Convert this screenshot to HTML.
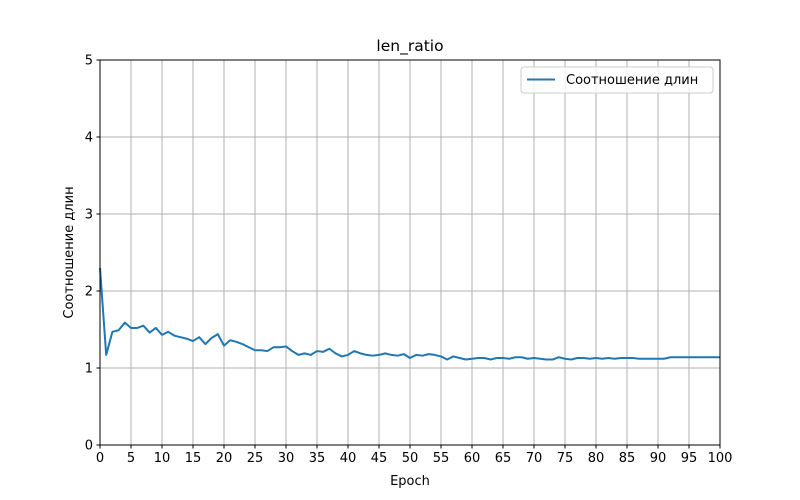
<!DOCTYPE html>
<html><head><meta charset="utf-8"><style>
body{margin:0;background:#fff;}
svg{display:block;font-family:"DejaVu Sans","Liberation Sans",sans-serif;}
</style></head><body>
<svg id="chart" width="800" height="500"></svg>
<script>
const epochs = Array.from({length:101},(_,i)=>i);
const ratioValues = [2.3,1.17,1.47,1.49,1.59,1.52,1.52,1.55,1.46,1.52,1.43,1.47,1.42,1.40,1.38,1.35,1.40,1.31,1.39,1.44,1.29,1.36,1.34,1.31,1.27,1.23,1.23,1.22,1.27,1.27,1.28,1.22,1.17,1.19,1.17,1.22,1.21,1.25,1.19,1.15,1.17,1.22,1.19,1.17,1.16,1.17,1.19,1.17,1.16,1.18,1.13,1.17,1.16,1.18,1.17,1.15,1.11,1.15,1.13,1.11,1.12,1.13,1.13,1.11,1.13,1.13,1.12,1.14,1.14,1.12,1.13,1.12,1.11,1.11,1.14,1.12,1.11,1.13,1.13,1.12,1.13,1.12,1.13,1.12,1.13,1.13,1.13,1.12,1.12,1.12,1.12,1.12,1.14,1.14,1.14,1.14,1.14,1.14,1.14,1.14,1.14];
const xTicks = [0,5,10,15,20,25,30,35,40,45,50,55,60,65,70,75,80,85,90,95,100];
const yTicks = [0,1,2,3,4,5];
const L=100,R=720,T=60,B=445;
const xs=v=>L+(v-0)/(100-0)*(R-L);
const ys=v=>B-(v-0)/(5-0)*(B-T);
const svg=document.getElementById('chart');
const NS='http://www.w3.org/2000/svg';
function mk(tag,attrs,parent){const e=document.createElementNS(NS,tag);for(const k in attrs)e.setAttribute(k,attrs[k]);(parent||svg).appendChild(e);return e;}
const grid=mk('g',{});


xTicks.forEach(t=>{
  const l=mk('line',{x1:xs(t),x2:xs(t),y1:T,y2:B,stroke:'#b0b0b0','stroke-width':1},grid);
  
  
  const tk=mk('line',{x1:xs(t),x2:xs(t),y1:B,y2:B+3.5,stroke:'#000','stroke-width':1});
  
  
  const tx=mk('text',{x:xs(t),y:B+17,'text-anchor':'middle','font-size':13});
  tx.textContent=t;
  
  
});
yTicks.forEach(t=>{
  const l=mk('line',{x1:L,x2:R,y1:ys(t),y2:ys(t),stroke:'#b0b0b0','stroke-width':1},grid);
  
  
  const tk=mk('line',{x1:L-3.5,x2:L,y1:ys(t),y2:ys(t),stroke:'#000','stroke-width':1});
  
  
  const tx=mk('text',{x:L-7,y:ys(t)+4.5,'text-anchor':'end','font-size':13});
  tx.textContent=t;
  
  
});
const line=mk('polyline',{points:epochs.map((e,i)=>xs(e)+','+ys(ratioValues[i])).join(' '),fill:'none',stroke:'#1f77b4','stroke-width':2,'stroke-linejoin':'round'});


const frame=mk('rect',{x:L,y:T,width:R-L,height:B-T,fill:'none',stroke:'#000','stroke-width':1});


const title=mk('text',{x:(L+R)/2,y:T-9,'text-anchor':'middle','font-size':15.5});
title.textContent='len_ratio';


const xl=mk('text',{x:(L+R)/2,y:B+40,'text-anchor':'middle','font-size':13});
xl.textContent='Epoch';


const yl=mk('text',{x:0,y:0,'text-anchor':'middle','font-size':13,transform:`translate(73,${(T+B)/2}) rotate(-90)`});
yl.textContent='Соотношение длин';


const lg=mk('g',{});


mk('rect',{x:521,y:67,width:192,height:26,rx:3,fill:'#fff','fill-opacity':0.8,stroke:'#ccc','stroke-width':1},lg);
const ll=mk('line',{x1:527,x2:555,y1:79.5,y2:79.5,stroke:'#1f77b4','stroke-width':2},lg);


const lt=mk('text',{x:566,y:84,'font-size':13},lg);
lt.textContent='Соотношение длин';


</script>
</body></html>
